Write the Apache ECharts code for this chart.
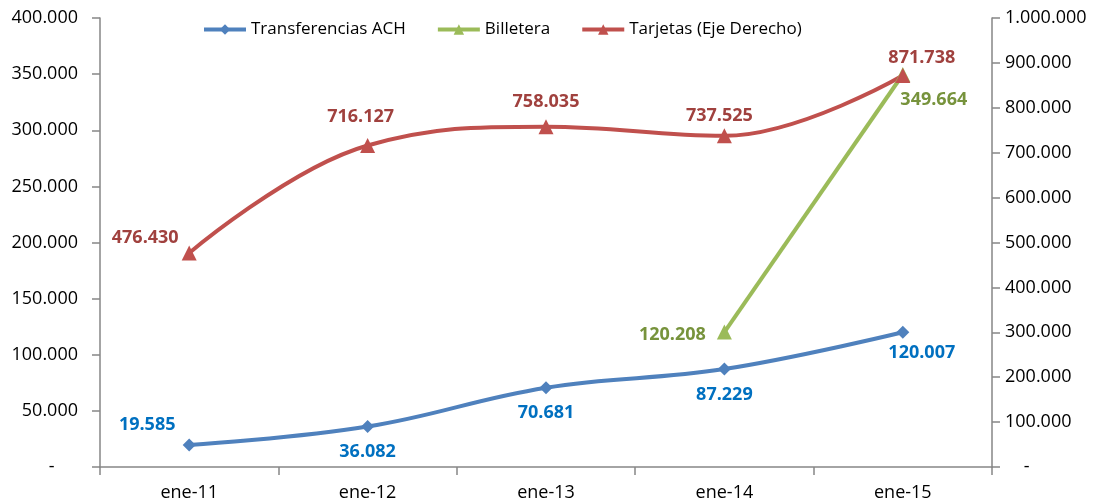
<!DOCTYPE html>
<html>
<head>
<meta charset="utf-8">
<script src="https://cdn.jsdelivr.net/npm/echarts@6/dist/echarts.min.js"></script>
<style>
  html, body { margin: 0; padding: 0; background: #fff; }
  #chart { width: 1101px; height: 503px; }
</style>
</head>
<body>
<div id="chart"></div>
<script>
// datos
var categorias = ["ene-11", "ene-12", "ene-13", "ene-14", "ene-15"];
var transferencias = [19585, 36082, 70681, 87229, 120007];
var billetera = [null, null, null, 120208, 349664];
var tarjetas = [476430, 716127, 758035, 737525, 871738];

// desplazamiento de etiquetas (px)
var offAch = [[-42, -20], [0, 25], [0, 25], [0, 26], [19, 21]];
var offBil = [null, null, null, [-52, 3], [31, 25]];
var offTar = [[-44, -15], [-7, -29], [0, -25], [-5, -20], [19, -18]];

function fmt(v) {
  var s = String(Math.round(v));
  return s.replace(/\B(?=(\d{3})+(?!\d))/g, ".");
}

function puntos(valores, offs, color) {
  return valores.map(function (v, i) {
    if (v === null) return null;
    return {
      value: v,
      label: {
        show: true,
        position: "inside",
        offset: offs[i],
        color: color,
        fontWeight: "bold",
        fontSize: 18,
        fontFamily: "Open Sans",
        formatter: function (p) { return fmt(p.value); }
      }
    };
  });
}

var ejeLinea = { show: true, lineStyle: { color: "#868686", width: 1.5 } };
var ejeTick = { show: true, length: 8, lineStyle: { color: "#868686", width: 1.5 } };
var fuente = { color: "#000", fontSize: 18, fontFamily: "Open Sans" };

var chart = echarts.init(document.getElementById("chart"));
chart.setOption({
  backgroundColor: "#fff",
  animation: false,
  legend: {
    top: 16,
    left: 197,
    itemWidth: 42,
    itemHeight: 13,
    itemGap: 30,
    lineStyle: { width: 4 },
    textStyle: { color: "#000", fontSize: 17, fontFamily: "Open Sans" },
    data: ["Transferencias ACH", "Billetera", "Tarjetas (Eje Derecho)"]
  },
  grid: { left: 100, right: 109, top: 18, bottom: 36 },
  xAxis: {
    type: "category",
    data: categorias,
    boundaryGap: true,
    axisLine: ejeLinea,
    axisTick: ejeTick,
    axisLabel: Object.assign({ margin: 17 }, fuente),
    splitLine: { show: false }
  },
  yAxis: [
    {
      type: "value",
      min: 0, max: 400000, interval: 50000,
      axisLine: ejeLinea,
      axisTick: ejeTick,
      splitLine: { show: false },
      axisLabel: Object.assign({
        margin: 22,
        formatter: function (v) { return v === 0 ? "-     " : fmt(v); }
      }, fuente)
    },
    {
      type: "value",
      min: 0, max: 1000000, interval: 100000,
      position: "right",
      axisLine: ejeLinea,
      axisTick: ejeTick,
      splitLine: { show: false },
      axisLabel: Object.assign({
        margin: 13,
        formatter: function (v) { return v === 0 ? "    -" : fmt(v); }
      }, fuente)
    }
  ],
  series: [
    {
      name: "Transferencias ACH",
      type: "line",
      smooth: 0.4,
      yAxisIndex: 0,
      symbol: "diamond",
      symbolSize: 13,
      itemStyle: { color: "#4F81BD" },
      lineStyle: { color: "#4F81BD", width: 4 },
      data: puntos(transferencias, offAch, "#0070C0")
    },
    {
      name: "Billetera",
      type: "line",
      yAxisIndex: 0,
      symbol: "triangle",
      symbolSize: 15,
      connectNulls: false,
      itemStyle: { color: "#9BBB59" },
      lineStyle: { color: "#9BBB59", width: 4 },
      data: puntos(billetera, offBil, "#77933C")
    },
    {
      name: "Tarjetas (Eje Derecho)",
      type: "line",
      smooth: 0.4,
      yAxisIndex: 1,
      symbol: "triangle",
      symbolSize: 15,
      itemStyle: { color: "#C0504D" },
      lineStyle: { color: "#C0504D", width: 4 },
      data: puntos(tarjetas, offTar, "#A0413E")
    }
  ]
});
</script>
</body>
</html>
